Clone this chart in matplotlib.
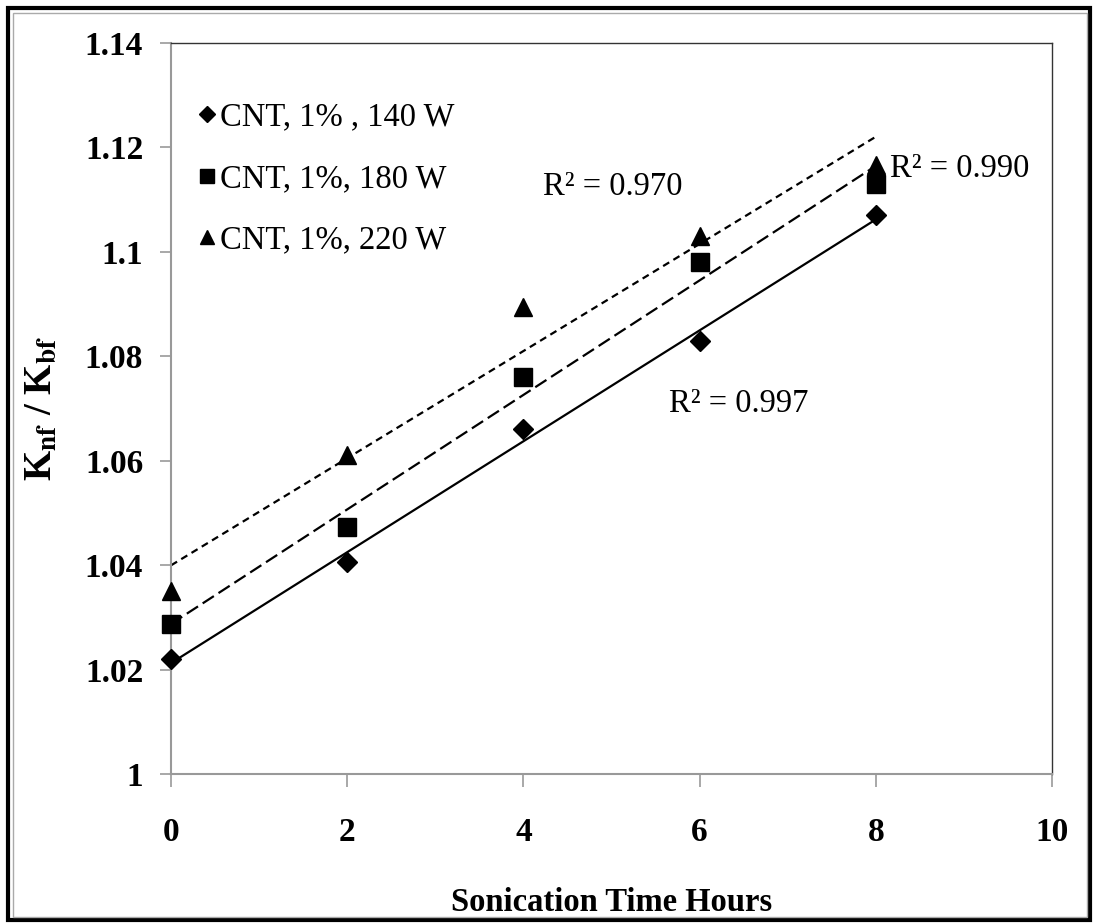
import numpy as np
import matplotlib.pyplot as plt
from matplotlib.patches import Rectangle

plt.rcParams['font.family'] = ['Liberation Serif', 'DejaVu Serif']
plt.rcParams['mathtext.fontset'] = 'stix'

# data
hours = [0, 2, 4, 6, 8]
k_140 = [1.022, 1.0406, 1.066, 1.083, 1.107]
k_180 = [1.0287, 1.0473, 1.076, 1.098, 1.113]
k_220 = [1.035, 1.061, 1.0894, 1.103, 1.1166]
labels = ["CNT, 1% , 140 W", "CNT, 1%, 180 W", "CNT, 1%, 220 W"]
r2_text = ["R² = 0.997", "R² = 0.990", "R² = 0.970"]

fig = plt.figure(figsize=(10.94, 9.24), dpi=100)
ax = fig.add_axes([0.1563, 0.1623, 0.8053, 0.7912])

series = [k_140, k_180, k_220]
markers = ['D', 's', '^']
msizes = [10, 13, 13]
dashes = [None, (6, 2.5), (3.2, 2.2)]

x = np.array(hours)
for vals, mk, ms, lab, ds in zip(series, markers, msizes, labels, dashes):
    ax.plot(hours, vals, linestyle='none', marker=mk, markersize=ms,
            color='black', label=lab, zorder=3, clip_on=False)
    # linear trend line
    p = np.polyfit(x, vals, 1)
    line, = ax.plot(x[[0, -1]], np.polyval(p, x[[0, -1]]), color='black', lw=1.6, zorder=2)
    if ds is not None:
        line.set_dashes(ds)

ax.text(5.65, 1.071, r2_text[0], fontsize=23.5, va='center', ha='left')
ax.text(8.16, 1.116, r2_text[1], fontsize=23.5, va='center', ha='left')
ax.text(4.22, 1.1125, r2_text[2], fontsize=23.5, va='center', ha='left')

ax.set_xlim(0, 10)
ax.set_ylim(1, 1.14)
ax.set_xticks([0, 2, 4, 6, 8, 10])
ax.set_yticks([1, 1.02, 1.04, 1.06, 1.08, 1.1, 1.12, 1.14])
ax.set_yticklabels(['1', '1.02', '1.04', '1.06', '1.08', '1.1', '1.12', '1.14'])
for t in ax.get_xticklabels() + ax.get_yticklabels():
    t.set_fontweight('bold')
    t.set_fontsize(24)
ax.tick_params(axis='y', direction='out', length=8, width=1.2, color='#999999', pad=12)
ax.tick_params(axis='x', direction='out', length=9, width=1.2, color='#999999', pad=22)

for s in ['left', 'bottom']:
    ax.spines[s].set_color('#999999')
    ax.spines[s].set_linewidth(1.5)
for s in ['top', 'right']:
    ax.spines[s].set_color('#333333')
    ax.spines[s].set_linewidth(1.0)

ax.set_xlabel('Sonication Time Hours', fontsize=23.5, fontweight='bold', labelpad=28)
ax.set_ylabel(r'K$_{\mathbf{nf}}$ / K$_{\mathbf{bf}}$', fontsize=28, fontweight='bold', labelpad=18)

ax.legend(loc='upper left', bbox_to_anchor=(0.0, 0.955), frameon=False, fontsize=23.5,
          handlelength=0.6, handletextpad=0.1, labelspacing=0.95, markerscale=0.8,
          borderaxespad=0.4)

# outer frame
fig.patches.append(Rectangle((0.007, 0.004), 0.989, 0.987, transform=fig.transFigure,
                             fill=False, lw=3, edgecolor='black'))
fig.patches.append(Rectangle((0.012, 0.008), 0.982, 0.978, transform=fig.transFigure,
                             fill=False, lw=1, edgecolor='#aaaaaa'))

fig.savefig('out.png', dpi=100)
